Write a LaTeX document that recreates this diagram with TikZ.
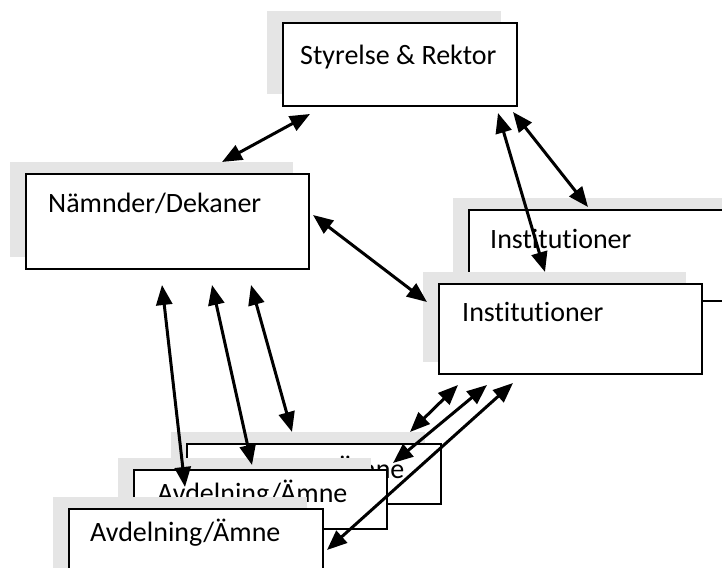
\documentclass[tikz,border=0pt]{standalone}
\usepackage{fontspec}
\setmainfont{Carlito}[Ligatures=NoCommon]
\usetikzlibrary{positioning, arrows.meta, shadows}

\begin{document}
\begin{tikzpicture}[
  x=1pt, y=1pt,
  font=\fontsize{28}{34}\selectfont,
  >={Triangle[length=20pt, width=16pt]},
  box/.style={draw, line width=2pt, fill=white, anchor=north west, inner sep=0pt,
    general shadow={shadow xshift=-16pt, shadow yshift=12pt, fill=gray!20}},
  lbl/.style={anchor=base west, inner sep=0pt},
  link/.style={<->, line width=3pt},
]
  \clip (0,0) rectangle (722,567);
  \fill[white] (0,0) rectangle (722,567);

  % Top level
  \node[box, minimum width=234pt, minimum height=83pt] (sr) at (282,545) {};
  \node[lbl] (srt) at ([shift={(18,-43)}]sr.north west) {Styrelse \& Rektor};

  % Faculty level
  \node[box, minimum width=283pt, minimum height=95pt] (nd) at (25,394) {};
  \node[lbl] (ndt) at ([shift={(23,-40)}]nd.north west) {Nämnder/Dekaner};

  % Departments (back, then front)
  \node[box, minimum width=300pt, minimum height=91pt] (inb) at (468,358) {};
  \node[lbl] (inbt) at ([shift={(22,-40)}]inb.north west) {Institutioner};
  \node[box, minimum width=263pt, minimum height=90pt] (inf) at (438,284) {};
  \node[lbl] (inft) at ([shift={(24,-39)}]inf.north west) {Institutioner};

  % Divisions / subjects (stacked)
  \node[box, minimum width=254pt, minimum height=60pt] (av3) at (186,124) {};
  \node[lbl] (av3t) at ([shift={(28,-36)}]av3.north west) {Avdelning/Ämne};
  \node[box, minimum width=253pt, minimum height=59pt] (av2) at (133,98) {};
  \node[lbl] (av2t) at ([shift={(24,-34)}]av2.north west) {Avdelning/Ämne};
  \node[box, minimum width=254pt, minimum height=75pt] (av1) at (68,59) {};
  \node[lbl] (av1t) at ([shift={(22,-34)}]av1.north west) {Avdelning/Ämne};

  % Arrow end points
  \coordinate (sr-a) at (310,453);  \coordinate (nd-a) at (222,405);
  \coordinate (sr-b) at (498,454);  \coordinate (inf-b) at (545,295);
  \coordinate (sr-c) at (513,455);  \coordinate (inb-c) at (588,360);
  \coordinate (nd-d) at (313,352);  \coordinate (inf-d) at (427,265);
  \coordinate (nd-e) at (162,282);  \coordinate (av-e) at (185,80);
  \coordinate (nd-f) at (212,282);  \coordinate (av-f) at (252,102);
  \coordinate (nd-g) at (251,282);  \coordinate (av-g) at (292,135);
  \coordinate (inf-h) at (458,182); \coordinate (av-h) at (410,135);
  \coordinate (inf-i) at (487,182); \coordinate (av-i) at (393,104);
  \coordinate (inf-j) at (513,184); \coordinate (av-j) at (327,17);

  % Two-way links
  \draw[link] (nd-a) -- (sr-a);
  \draw[link] (sr-b) -- (inf-b);
  \draw[link] (sr-c) -- (inb-c);
  \draw[link] (nd-d) -- (inf-d);
  \draw[link] (nd-e) -- (av-e);
  \draw[link] (nd-f) -- (av-f);
  \draw[link] (nd-g) -- (av-g);
  \draw[link] (inf-h) -- (av-h);
  \draw[link] (inf-i) -- (av-i);
  \draw[link] (inf-j) -- (av-j);
\end{tikzpicture}
\end{document}
